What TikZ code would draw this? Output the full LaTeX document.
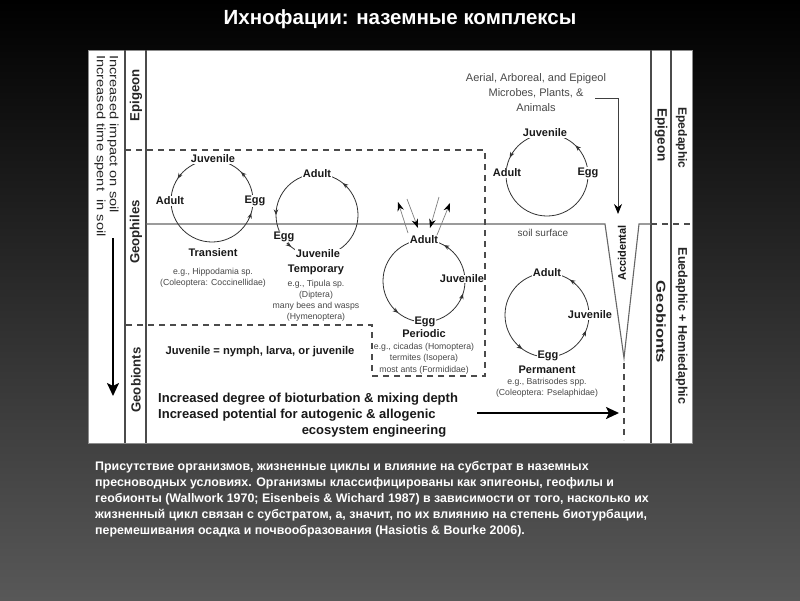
\documentclass[tikz,border=0pt]{standalone}
\usepackage{fontspec}
\setmainfont{Liberation Sans}
\usetikzlibrary{arrows.meta}
\definecolor{bgbot}{RGB}{88,88,88}
\definecolor{bgmid}{RGB}{20,20,20}
\definecolor{rulec}{RGB}{75,75,75}
\definecolor{graytxt}{RGB}{72,72,72}
\begin{document}
\begin{tikzpicture}[x=1pt,y=1pt,
 panelrule/.style={draw=rulec, line width=1.1pt},
 dashrule/.style={draw=rulec, line width=1.1pt, dash pattern=on 6pt off 5pt},
 soilline/.style={draw=black!60, line width=1.1pt},
 cycline/.style={draw=black!80, line width=0.8pt},
 cycarrow/.style={cycline, -{Stealth[length=5.5pt,width=4.5pt]}},
 crossarrow/.style={draw=black!50, line width=0.7pt, -{Stealth[length=9pt,width=6.5pt,color=black]}},
 bigarrow/.style={draw=black, line width=2.3pt, -{Stealth[length=13pt,width=12pt,inset=3pt]}},
 accarrow/.style={draw=black!75, line width=1pt, -{Stealth[length=10pt,width=8pt,color=black]}},
 lbl/.style={font=\bfseries\fontsize{11}{12}\selectfont, text=black!90, fill=white, inner sep=0.8pt},
 kind/.style={font=\bfseries\fontsize{11}{12}\selectfont, text=black!90, inner sep=0pt},
 extxt/.style={font=\fontsize{8.7}{11.5}\selectfont, text=graytxt, align=center, inner sep=0pt, anchor=north},
 vlab/.style={font=\bfseries\fontsize{13.2}{14}\selectfont, text=black!85, inner sep=0pt},
 bottxt/.style={font=\bfseries\fontsize{13}{16}\selectfont, text=black!90, inner sep=0pt},
 graynote/.style={text=graytxt, inner sep=0pt, align=center}
]
\useasboundingbox (0,0) rectangle (800,-600);
\shade[top color=black, middle color=bgmid, bottom color=bgbot] (0,0) rectangle (800,-600);
\node[font=\bfseries\fontsize{20.5}{24}\selectfont, text=white] (title) at (400,-19) {Ихнофации: наземные комплексы};

% panel
\fill[white] (88,-50) rectangle (692,-443);
\draw[draw=black!45, line width=0.6pt] (88,-50) rectangle (692,-443);
\foreach \cx in {125,146,651,671} \draw[panelrule] (\cx,-50) -- (\cx,-443);

% soil surface
\draw[soilline] (146,-224) -- (605,-224) -- (624,-358) -- (639,-224) -- (651,-224);
\draw[dashrule] (651,-224) -- (692,-224);
\draw[dashrule] (624,-363) -- (624,-440);
\node[graynote, font=\fontsize{10}{12}\selectfont] (soil) at (543,-233) {soil surface};

% left column text
\node[font=\fontsize{12}{13}\selectfont, text=black!85, align=left, rotate=-90, xscale=1.22, anchor=west, inner sep=0pt] (impact) at (106.5,-55) {Increased impact on soil\\Increased time spent\ \ in soil};
\coordinate (la0) at (113,-238);
\coordinate (la1) at (113,-396);
\draw[bigarrow] (la0) -- (la1);

% column 2 labels
\node[vlab, rotate=90] (lEpi) at (136,-95) {Epigeon};
\node[vlab, rotate=90] (lGeo) at (136,-232) {Geophiles};
\node[vlab, rotate=90] (lGeb) at (136,-380) {Geobionts};

% right columns labels
\node[vlab, font=\bfseries\fontsize{13.5}{14}\selectfont, rotate=-90] (rEpi) at (661,-135) {Epigeon};
\node[vlab, font=\bfseries\fontsize{13}{14}\selectfont, rotate=-90, xscale=1.28] (rGeb) at (661,-322) {Geobionts};
\node[vlab, font=\bfseries\fontsize{12}{13}\selectfont, rotate=-90] (rEpe) at (681.5,-138) {Epedaphic};
\node[vlab, font=\bfseries\fontsize{12.6}{13}\selectfont, rotate=-90] (rEue) at (681.5,-326) {Euedaphic + Hemiedaphic};

% Aerial text and accidental arrow
\node[graynote, font=\fontsize{11}{14.7}\selectfont] (aerial) at (536,-92.5) {Aerial, Arboreal, and Epigeol\\Microbes, Plants, \&\\Animals};
\coordinate (acc0) at (595,-98);
\coordinate (acc1) at (618,-214);
\draw[accarrow] (acc0) -| (acc1);
\node[kind, rotate=90] (accid) at (622,-253) {Accidental};

% ---------- cycles ----------
% Transient
\coordinate (T) at (212,-201);
\draw[cycline] (T) circle[radius=41];
\node[lbl] (tJ) at (213,-159) {Juvenile};
\node[lbl] (tA) at (170,-201) {Adult};
\node[lbl] (tE) at (255,-201) {Egg};
\foreach \a in {45,147,343} \draw[cycarrow] (T) ++(\a-8:41) arc[start angle=\a-8, end angle=\a, radius=41];
\node[kind] (tK) at (213,-253) {Transient};
\node[extxt] (tX) at (213,-267.5) {e.g., Hippodamia sp.\\(Coleoptera: Coccinellidae)};

% Temporary
\coordinate (M) at (317,-215);
\draw[cycline] (M) circle[radius=41];
\node[lbl] (mA) at (317,-174) {Adult};
\node[lbl] (mE) at (284,-237) {Egg};
\node[lbl] (mJ) at (318,-254) {Juvenile};
\foreach \a in {51,180,231} \draw[cycarrow] (M) ++(\a-8:41) arc[start angle=\a-8, end angle=\a, radius=41];
\node[kind] (mK) at (316,-270) {Temporary};
\node[extxt, font=\fontsize{8.7}{11}\selectfont] (mX) at (316,-280) {e.g., Tipula sp.\\(Diptera)\\many bees and wasps\\(Hymenoptera)};

% Periodic
\coordinate (P) at (424,-281);
\draw[cycline] (P) circle[radius=41];
\node[lbl] (pA) at (424,-240) {Adult};
\node[lbl, inner sep=0.3pt] (pJ) at (462,-279) {Juvenile};
\node[lbl] (pE) at (425,-322) {Egg};
\foreach \a in {61,342,231} \draw[cycarrow] (P) ++(\a-8:41) arc[start angle=\a-8, end angle=\a, radius=41];
\node[kind] (pK) at (424,-334) {Periodic};
\node[extxt] (pX) at (424,-342.5) {e.g., cicadas (Homoptera)\\termites (Isopera)\\most ants (Formididae)};

% crossing arrows at periodic adult
\coordinate (x1s) at (408,-233); \coordinate (x1e) at (398,-202);
\coordinate (x2s) at (407,-199); \coordinate (x2e) at (418,-228);
\coordinate (x3s) at (439,-197); \coordinate (x3e) at (430,-228);
\coordinate (x4s) at (437,-235); \coordinate (x4e) at (450,-203);
\draw[crossarrow] (x1s) -- (x1e);
\draw[crossarrow] (x2s) -- (x2e);
\draw[crossarrow] (x3s) -- (x3e);
\draw[crossarrow] (x4s) -- (x4e);

% Permanent
\coordinate (R) at (547,-315);
\draw[cycline] (R) circle[radius=42];
\node[lbl] (rA) at (547,-273) {Adult};
\node[lbl] (rJ) at (590,-315) {Juvenile};
\node[lbl] (rE) at (548,-356) {Egg};
\foreach \a in {57,338,234} \draw[cycarrow] (R) ++(\a-8:42) arc[start angle=\a-8, end angle=\a, radius=42];
\node[kind] (rK) at (547,-370) {Permanent};
\node[extxt] (rX) at (547,-377.5) {e.g., Batrisodes spp.\\(Coleoptera: Pselaphidae)};

% Epigeon cycle
\coordinate (E) at (547,-175);
\draw[cycline] (E) circle[radius=41];
\node[lbl] (eJ) at (545,-133) {Juvenile};
\node[lbl] (eA) at (507,-173) {Adult};
\node[lbl] (eE) at (588,-173) {Egg};
\foreach \a in {46,155} \draw[cycarrow] (E) ++(\a-8:41) arc[start angle=\a-8, end angle=\a, radius=41];

% geophile dashed frame
\draw[dashrule] (125,-150) -- (485,-150) -- (485,-376) -- (372,-376) -- (372,-325) -- (125,-325);

% notes
\node[kind, font=\bfseries\fontsize{11.2}{12}\selectfont] (juvnote) at (260,-352) {Juvenile = nymph, larva, or juvenile};
\node[bottxt, anchor=west] (bt1) at (158,-399) {Increased degree of bioturbation \& mixing depth};
\node[bottxt, anchor=west] (bt2) at (158,-415) {Increased potential for autogenic \& allogenic};
\node[bottxt] (bt3) at (374,-431) {ecosystem engineering};
\coordinate (ra0) at (477,-413);
\coordinate (ra1) at (619,-413);
\draw[bigarrow] (ra0) -- (ra1);

% caption
\node[anchor=north west, align=left, text=white, inner sep=0pt, font=\bfseries\fontsize{12.4}{16}\selectfont] (cap) at (95,-461) {Присутствие организмов, жизненные циклы и влияние на субстрат в наземных\\пресноводных условиях. Организмы классифицированы как эпигеоны, геофилы и\\геобионты (Wallwork 1970; Eisenbeis \& Wichard 1987) в зависимости от того, насколько их\\жизненный цикл связан с субстратом, а, значит, по их влиянию на степень биотурбации,\\перемешивания осадка и почвообразования (Hasiotis \& Bourke 2006).};
\end{tikzpicture}
\end{document}
